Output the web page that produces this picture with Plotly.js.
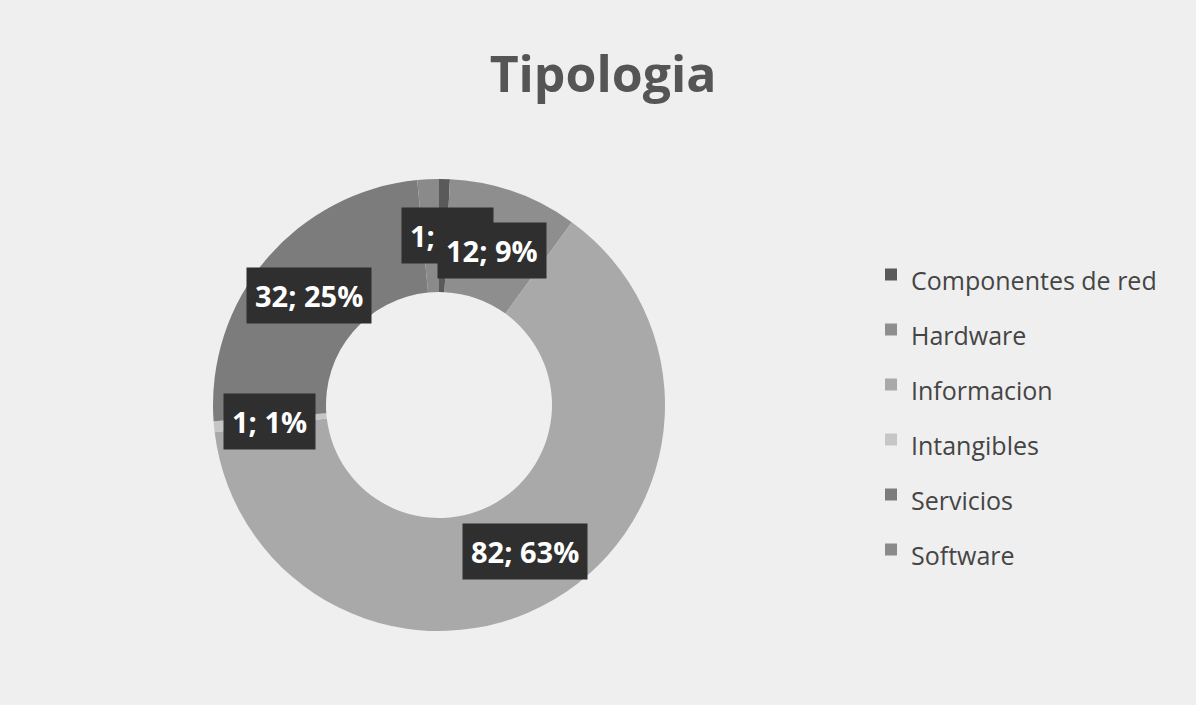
<!DOCTYPE html>
<html>
<head>
<meta charset="utf-8">
<script src="https://cdn.plot.ly/plotly-3.0.1.min.js"></script>
<style>
  html, body { margin: 0; padding: 0; background: #efefef; }
  #chart { width: 1196px; height: 705px; }
</style>
</head>
<body>
<div id="chart"></div>
<script>
// ---- data ----
const categories = ["Componentes de red", "Hardware", "Informacion", "Intangibles", "Servicios", "Software"];
const values = [1, 12, 82, 1, 32, 2];
const sliceColors = ["#5a5a5a", "#8e8e8e", "#a9a9a9", "#c6c6c6", "#7c7c7c", "#8a8a8a"];
const showLabel = [true, true, true, true, true, false];
const chartTitle = "Tipologia";

// ---- layout geometry (pixels) ----
const W = 1196, H = 705;
const CX = 439, CY = 405, R = 226;
const labelR = 170;

const total = values.reduce((a, b) => a + b, 0);
const labelTexts = values.map(v => v + "; " + Math.round(v / total * 100) + "%");

// label annotations positioned at each slice's mid-angle (clockwise from 12 o'clock)
const annotations = [];
const nudges = { 0: [4, 0], 1: [-3, -6] };
let cum = 0;
values.forEach((v, i) => {
  const mid = (cum + v / 2) / total * 2 * Math.PI;
  cum += v;
  if (!showLabel[i]) return;
  const px = CX + labelR * Math.sin(mid);
  const py = CY - labelR * Math.cos(mid);
  const n = nudges[i] || [0, 0];
  annotations.push({
    idx: i,
    x: px / W, y: 1 - py / H, xref: "paper", yref: "paper",
    xshift: n[0], yshift: n[1],
    text: labelTexts[i], showarrow: false,
    font: { family: "Open Sans, sans-serif", size: 29, color: "#ffffff", weight: "bold" },
    bgcolor: "#2f2f2f", borderpad: 8, xanchor: "center", yanchor: "middle"
  });
});
// draw the Hardware label last so it sits on top of the neighbouring small label
const hwPos = annotations.findIndex(a => a.idx === 1);
if (hwPos >= 0) { const hw = annotations.splice(hwPos, 1)[0]; annotations.push(hw); }
annotations.forEach(a => delete a.idx);

const trace = {
  type: "pie",
  labels: categories.map(c => '<span style="font-size:25px">' + c + '</span>'),
  values: values,
  hole: 0.5,
  sort: false,
  direction: "clockwise",
  rotation: 0,
  textinfo: "none",
  hoverinfo: "skip",
  marker: { colors: sliceColors, line: { width: 0 } },
  domain: { x: [(CX - R) / W, (CX + R) / W], y: [1 - (CY + R) / H, 1 - (CY - R) / H] }
};

const layout = {
  width: W, height: H,
  margin: { l: 0, r: 0, t: 0, b: 0 },
  paper_bgcolor: "#efefef",
  plot_bgcolor: "#efefef",
  title: {
    text: chartTitle,
    x: 603 / W, xanchor: "center",
    y: 1 - 74 / H, yanchor: "middle", yref: "container",
    font: { family: "Open Sans, sans-serif", size: 50, color: "#555555", weight: "bold" }
  },
  showlegend: true,
  legend: {
    x: 871 / W, xanchor: "left",
    y: 1 - 412 / H, yanchor: "middle",
    font: { family: "Open Sans, sans-serif", size: 40, color: "#454545" },
    bgcolor: "rgba(0,0,0,0)", borderwidth: 0
  },
  annotations: annotations
};

Plotly.newPlot("chart", [trace], layout, { staticPlot: true, displayModeBar: false });
</script>
</body>
</html>
